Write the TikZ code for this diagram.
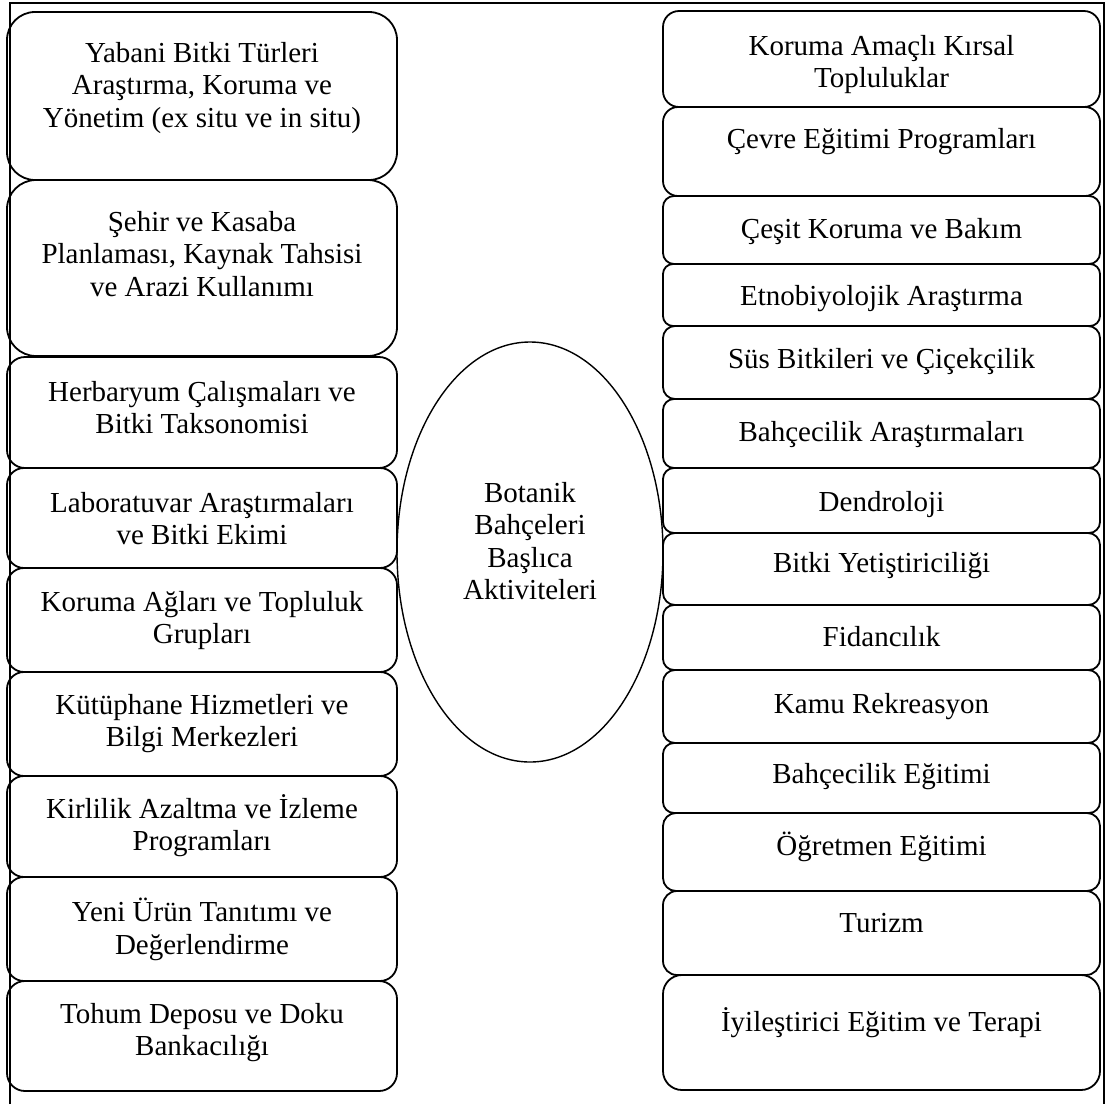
\documentclass[tikz,border=0pt]{standalone}
\usepackage{fontspec}
\setmainfont{Liberation Serif}
\usetikzlibrary{shapes.geometric}
\newcommand{\myst}{\rule{0pt}{22pt}}
\newcommand{\fsz}{\fontsize{29}{32.5}\selectfont}
\begin{document}
\begin{tikzpicture}[x=1pt,y=-1pt,
  lbox/.style={draw, line width=1.8pt, inner sep=0pt, minimum width=390pt},
  rbox/.style={draw, line width=1.8pt, inner sep=0pt, minimum width=437pt},
  txt/.style={font=\fsz, align=center, anchor=north, inner sep=0pt},
  frame/.style={line width=1.3pt},
  center/.style={draw, ellipse, line width=1.4pt, inner sep=0pt, minimum width=266pt, minimum height=420pt}]
\useasboundingbox (0,0) rectangle (1106,1104);
\draw[frame] (10,1104) -- (10,3) -- (1104,3) -- (1104,1104);

% left column
\node[lbox, minimum height=168pt, rounded corners=28pt] (L1) at (202,96) {};
\node[lbox, minimum height=176pt, rounded corners=29pt] (L2) at (202,268) {};
\node[lbox, minimum height=111pt, rounded corners=18pt] (L3) at (202,412.5) {};
\node[lbox, minimum height=100pt, rounded corners=17pt] (L4) at (202,518) {};
\node[lbox, minimum height=104pt, rounded corners=17pt] (L5) at (202,620) {};
\node[lbox, minimum height=104pt, rounded corners=17pt] (L6) at (202,724) {};
\node[lbox, minimum height=101pt, rounded corners=17pt] (L7) at (202,826.5) {};
\node[lbox, minimum height=104pt, rounded corners=17pt] (L8) at (202,929) {};
\node[lbox, minimum height=110pt, rounded corners=18pt] (L9) at (202,1036) {};

\node[txt] (tL1) at (202,40) {\myst Yabani Bitki Türleri\\Araştırma, Koruma ve\\Yönetim (ex situ ve in situ)};
\node[txt] (tL2) at (202,209) {\myst Şehir ve Kasaba\\Planlaması, Kaynak Tahsisi\\ve Arazi Kullanımı};
\node[txt] (tL3) at (202,379) {\myst Herbaryum Çalışmaları ve\\Bitki Taksonomisi};
\node[txt] (tL4) at (202,490) {\myst Laboratuvar Araştırmaları\\ve Bitki Ekimi};
\node[txt] (tL5) at (202,589) {\myst Koruma Ağları ve Topluluk\\Grupları};
\node[txt] (tL6) at (202,692) {\myst Kütüphane Hizmetleri ve\\Bilgi Merkezleri};
\node[txt] (tL7) at (202,794) {\myst Kirlilik Azaltma ve İzleme\\Programları};
\node[txt] (tL8) at (202,898) {\myst Yeni Ürün Tanıtımı ve\\Değerlendirme};
\node[txt] (tL9) at (202,1001) {\myst Tohum Deposu ve Doku\\Bankacılığı};

% right column
\node[rbox, minimum height=96pt, rounded corners=16pt] (R1) at (881.5,59) {};
\node[rbox, minimum height=89pt, rounded corners=15pt] (R2) at (881.5,151.5) {};
\node[rbox, minimum height=68pt, rounded corners=11pt] (R3) at (881.5,230) {};
\node[rbox, minimum height=62pt, rounded corners=10pt] (R4) at (881.5,295) {};
\node[rbox, minimum height=73pt, rounded corners=12pt] (R5) at (881.5,362.5) {};
\node[rbox, minimum height=69pt, rounded corners=11pt] (R6) at (881.5,433.5) {};
\node[rbox, minimum height=65pt, rounded corners=11pt] (R7) at (881.5,500.5) {};
\node[rbox, minimum height=72pt, rounded corners=12pt] (R8) at (881.5,569) {};
\node[rbox, minimum height=65pt, rounded corners=11pt] (R9) at (881.5,637.5) {};
\node[rbox, minimum height=73pt, rounded corners=12pt] (R10) at (881.5,706.5) {};
\node[rbox, minimum height=70pt, rounded corners=11pt] (R11) at (881.5,778) {};
\node[rbox, minimum height=78pt, rounded corners=13pt] (R12) at (881.5,852) {};
\node[rbox, minimum height=84pt, rounded corners=14pt] (R13) at (881.5,933) {};
\node[rbox, minimum height=115pt, rounded corners=19pt] (R14) at (881.5,1032.5) {};

\node[txt] (tR1) at (881.5,33) {\myst Koruma Amaçlı Kırsal\\Topluluklar};
\node[txt] (tR2) at (881.5,126) {\myst Çevre Eğitimi Programları};
\node[txt] (tR3) at (881.5,216) {\myst Çeşit Koruma ve Bakım};
\node[txt] (tR4) at (881.5,283) {\myst Etnobiyolojik Araştırma};
\node[txt] (tR5) at (881.5,346) {\myst Süs Bitkileri ve Çiçekçilik};
\node[txt] (tR6) at (881.5,419) {\myst Bahçecilik Araştırmaları};
\node[txt] (tR7) at (881.5,489) {\myst Dendroloji};
\node[txt] (tR8) at (881.5,550) {\myst Bitki Yetiştiriciliği};
\node[txt] (tR9) at (881.5,624) {\myst Fidancılık};
\node[txt] (tR10) at (881.5,691) {\myst Kamu Rekreasyon};
\node[txt] (tR11) at (881.5,761) {\myst Bahçecilik Eğitimi};
\node[txt] (tR12) at (881.5,832) {\myst Öğretmen Eğitimi};
\node[txt] (tR13) at (881.5,910) {\myst Turizm};
\node[txt] (tR14) at (881.5,1007) {\myst İyileştirici Eğitim ve Terapi};

% centre
\node[center] (E) at (530,552) {};
\node[txt] (tE) at (530,480) {\myst Botanik\\Bahçeleri\\Başlıca\\Aktiviteleri};
\end{tikzpicture}
\end{document}
